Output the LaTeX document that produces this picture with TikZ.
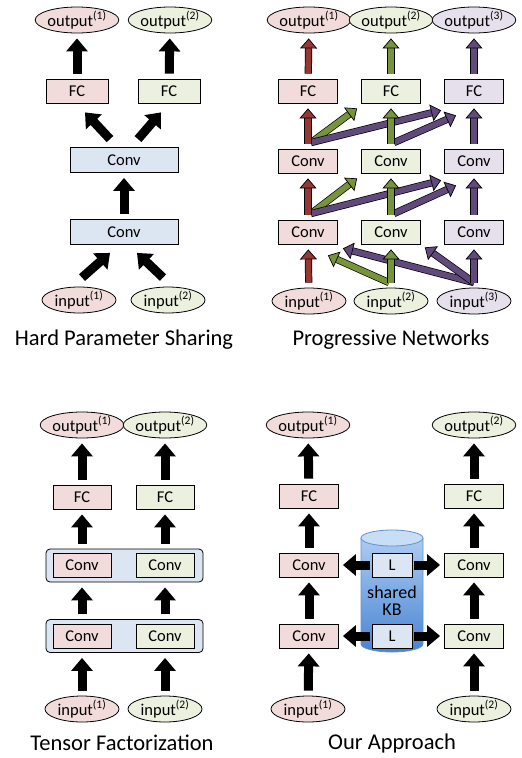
\documentclass[tikz,border=0pt]{standalone}
\usepackage{fontspec}
\setmainfont{Carlito}
\usetikzlibrary{arrows.meta,calc,shapes.geometric}
\definecolor{pinkbg}{RGB}{242,220,219}
\definecolor{greenbg}{RGB}{235,241,222}
\definecolor{purplebg}{RGB}{229,224,236}
\definecolor{bluebg}{RGB}{220,230,242}
\definecolor{redline}{RGB}{149,55,53}
\definecolor{greenline}{RGB}{119,147,60}
\definecolor{purpleline}{RGB}{96,74,123}
\definecolor{kbtop}{RGB}{200,221,246}
\definecolor{kbbody}{RGB}{172,203,243}
\definecolor{kbbottom}{RGB}{72,132,210}
\definecolor{kbline}{RGB}{96,146,206}
\newcommand{\nodefont}{\fontsize{16.5}{18}\selectfont}
\newcommand{\kbfont}{\fontsize{18}{17}\selectfont}
\newcommand{\captionfont}{\fontsize{22.5}{26}\selectfont}
\tikzset{
  layer/.style={draw=black, line width=0.8pt, minimum width=59pt,
    minimum height=24pt, inner sep=0pt, font=\nodefont},
  io/.style={ellipse, draw=black, line width=0.8pt, minimum width=76pt,
    minimum height=26pt, inner sep=0pt, font=\nodefont},
  group/.style={draw=black, line width=0.8pt, fill=bluebg, rounded corners=4pt,
    minimum width=157pt, minimum height=33pt},
  caption/.style={font=\captionfont},
  fat/.style={draw=black, line width=9pt, -{Triangle[length=13pt,width=21pt]},
    shorten <=5pt, shorten >=5pt},
  prog/.style={draw=black, line width=0.7pt, double=#1, double distance=5.8pt,
    -{Triangle[length=10pt,width=17pt,fill=#1,line width=0.7pt]},
    shorten <=5pt, shorten >=5pt},
  lat/.style={shorten <=0pt, shorten >=0pt}
}

\begin{document}
\begin{tikzpicture}[x=1pt,y=-1pt]
  \useasboundingbox (0,0) rectangle (522,758);

  % Hard Parameter Sharing
  \node[io, fill=pinkbg] (hout1) at (77,20) {output\textsuperscript{(1)}};
  \node[io, fill=greenbg] (hout2) at (170,20) {output\textsuperscript{(2)}};
  \node[layer, fill=pinkbg, minimum width=62pt] (hfc1) at (77,91) {FC};
  \node[layer, fill=greenbg, minimum width=62pt] (hfc2) at (169,91) {FC};
  \node[layer, fill=bluebg, minimum width=108pt, minimum height=25pt] (hconv2) at (124,160) {Conv};
  \node[layer, fill=bluebg, minimum width=108pt, minimum height=25pt] (hconv1) at (124,232) {Conv};
  \node[io, fill=pinkbg, minimum width=74pt] (hin1) at (79,300) {input\textsuperscript{(1)}};
  \node[io, fill=greenbg, minimum width=74pt] (hin2) at (168,300) {input\textsuperscript{(2)}};
  \node[caption] (hcap) at (124,340) {Hard Parameter Sharing};

  \draw[fat] (hfc1) -- (hout1);
  \draw[fat] (hfc2) -- (hout2);
  \draw[fat, lat] ($(hconv2.north)+(-14,-8)$) -- ($(hfc1.south)+(8,9)$);
  \draw[fat, lat] ($(hconv2.north)+(14,-8)$) -- ($(hfc2.south)+(-8,9)$);
  \draw[fat] (hconv1) -- (hconv2);
  \draw[fat, lat] ($(hin1.north)+(3,-9)$) -- ($(hconv1.south)+(-14,8)$);
  \draw[fat, lat] ($(hin2.north)+(-5,-9)$) -- ($(hconv1.south)+(13,8)$);

  % Progressive Networks
  \node[io, fill=pinkbg] (pout1) at (309,20) {output\textsuperscript{(1)}};
  \node[io, fill=greenbg] (pout2) at (391,20) {output\textsuperscript{(2)}};
  \node[io, fill=purplebg] (pout3) at (474,20) {output\textsuperscript{(3)}};
  \node[layer, fill=pinkbg] (pfc1) at (308,91) {FC};
  \node[layer, fill=greenbg] (pfc2) at (391,91) {FC};
  \node[layer, fill=purplebg] (pfc3) at (474,91) {FC};
  \node[layer, fill=pinkbg] (pmid1) at (308,161) {Conv};
  \node[layer, fill=greenbg] (pmid2) at (391,161) {Conv};
  \node[layer, fill=purplebg] (pmid3) at (474,161) {Conv};
  \node[layer, fill=pinkbg] (plow1) at (308,232) {Conv};
  \node[layer, fill=greenbg] (plow2) at (391,232) {Conv};
  \node[layer, fill=purplebg] (plow3) at (474,232) {Conv};
  \node[io, fill=pinkbg, minimum width=74pt] (pin1) at (309,301) {input\textsuperscript{(1)}};
  \node[io, fill=greenbg, minimum width=74pt] (pin2) at (391,301) {input\textsuperscript{(2)}};
  \node[io, fill=purplebg, minimum width=74pt] (pin3) at (474,301) {input\textsuperscript{(3)}};
  \node[caption] (pcap) at (391,340) {Progressive Networks};

  \draw[prog=greenline, lat] ($(pmid1.north)+(3,-6)$) -- ($(pfc2.south west)+(-4,5)$);
  \draw[prog=purpleline, lat] ($(pmid1.north)+(3,-6)$) -- ($(pfc3.south west)+(-3,7)$);
  \draw[prog=purpleline, lat] ($(pmid2.north)+(3,-6)$) -- ($(pfc3.south west)+(12,12)$);
  \draw[prog=greenline, lat] ($(plow1.north)+(3,-6)$) -- ($(pmid2.south west)+(-4,5)$);
  \draw[prog=purpleline, lat] ($(plow1.north)+(3,-6)$) -- ($(pmid3.south west)+(-3,7)$);
  \draw[prog=purpleline, lat] ($(plow2.north)+(3,-6)$) -- ($(pmid3.south west)+(12,12)$);
  \draw[prog=greenline, lat] ($(pin2.north)+(-2,-5)$) -- ($(plow1.south east)+(-10,11)$);
  \draw[prog=purpleline, lat] ($(pin3.north)+(0,-5)$) -- ($(plow1.south east)+(5,4)$);
  \draw[prog=purpleline, lat] ($(pin3.north)+(0,-5)$) -- ($(plow2.south east)+(4,3)$);

  \draw[prog=redline] (pfc1) -- (pout1);
  \draw[prog=greenline] (pfc2) -- (pout2);
  \draw[prog=purpleline] (pfc3) -- (pout3);
  \draw[prog=redline] (pmid1) -- (pfc1);
  \draw[prog=greenline] (pmid2) -- (pfc2);
  \draw[prog=purpleline] (pmid3) -- (pfc3);
  \draw[prog=redline] (plow1) -- (pmid1);
  \draw[prog=greenline] (plow2) -- (pmid2);
  \draw[prog=purpleline] (plow3) -- (pmid3);
  \draw[prog=redline] (pin1) -- (plow1);
  \draw[prog=greenline] (pin2) -- (plow2);
  \draw[prog=purpleline] (pin3) -- (plow3);

  % Tensor Factorization
  \node[io, fill=pinkbg] (tout1) at (82,425) {output\textsuperscript{(1)}};
  \node[io, fill=greenbg] (tout2) at (165,425) {output\textsuperscript{(2)}};
  \node[layer, fill=pinkbg, minimum width=58pt] (tfc1) at (82,497) {FC};
  \node[layer, fill=greenbg, minimum width=58pt] (tfc2) at (165,497) {FC};
  \node[group] (tgrp2) at (124.5,565.5) {};
  \node[group] (tgrp1) at (124.5,636) {};
  \node[layer, fill=pinkbg, minimum width=58pt] (tconv2a) at (82,565) {Conv};
  \node[layer, fill=greenbg, minimum width=58pt] (tconv2b) at (165,565) {Conv};
  \node[layer, fill=pinkbg, minimum width=58pt] (tconv1a) at (82,636) {Conv};
  \node[layer, fill=greenbg, minimum width=58pt] (tconv1b) at (165,636) {Conv};
  \node[io, fill=pinkbg, minimum width=74pt] (tin1) at (82,709) {input\textsuperscript{(1)}};
  \node[io, fill=greenbg, minimum width=74pt] (tin2) at (165,709) {input\textsuperscript{(2)}};
  \node[caption] (tcap) at (122,743) {Tensor Factorization};

  \draw[fat] (tfc1) -- (tout1);
  \draw[fat] (tfc2) -- (tout2);
  \draw[fat] (tgrp2.north -| tconv2a) -- (tfc1);
  \draw[fat] (tgrp2.north -| tconv2b) -- (tfc2);
  \draw[fat] (tgrp1.north -| tconv1a) -- (tgrp2.south -| tconv2a);
  \draw[fat] (tgrp1.north -| tconv1b) -- (tgrp2.south -| tconv2b);
  \draw[fat] (tin1) -- (tgrp1.south -| tconv1a);
  \draw[fat] (tin2) -- (tgrp1.south -| tconv1b);

  % Our Approach
  % shared KB cylinder
  \path[draw=kbline, line width=0.8pt, top color=kbbody, bottom color=kbbottom]
    (361,538) -- (361,644) arc[start angle=180, end angle=0, x radius=31, y radius=8]
    -- (423,538) -- cycle;
  \path[draw=kbline, line width=0.8pt, fill=kbtop] (392,538) ellipse [x radius=31, y radius=8];
  \node[font=\kbfont, align=center, inner sep=0pt] (kbtext) at (392,601) {shared\\KB};
  \node[layer, fill=bluebg, minimum width=40pt] (lknow2) at (392,565) {L};
  \node[layer, fill=bluebg, minimum width=40pt] (lknow1) at (392,636) {L};
  \node[io, fill=pinkbg] (oout1) at (308,425) {output\textsuperscript{(1)}};
  \node[io, fill=greenbg] (oout2) at (474,425) {output\textsuperscript{(2)}};
  \node[layer, fill=pinkbg] (ofc1) at (309,496) {FC};
  \node[layer, fill=greenbg] (ofc2) at (474,496) {FC};
  \node[layer, fill=pinkbg] (oconv2a) at (309,565) {Conv};
  \node[layer, fill=greenbg] (oconv2b) at (474,565) {Conv};
  \node[layer, fill=pinkbg] (oconv1a) at (309,636) {Conv};
  \node[layer, fill=greenbg] (oconv1b) at (474,636) {Conv};
  \node[io, fill=pinkbg, minimum width=74pt] (oin1) at (308,709) {input\textsuperscript{(1)}};
  \node[io, fill=greenbg, minimum width=74pt] (oin2) at (474,709) {input\textsuperscript{(2)}};
  \node[caption] (ocap) at (392,743) {Our Approach};

  \draw[fat] (ofc1) -- (oout1);
  \draw[fat] (ofc2) -- (oout2);
  \draw[fat] (oconv2a) -- (ofc1);
  \draw[fat] (oconv2b) -- (ofc2);
  \draw[fat] (oconv1a) -- (oconv2a);
  \draw[fat] (oconv1b) -- (oconv2b);
  \draw[fat] (oin1) -- (oconv1a);
  \draw[fat] (oin2) -- (oconv1b);
  \draw[fat, shorten <=2pt, shorten >=4pt] (lknow2) -- (oconv2a);
  \draw[fat, shorten <=2pt, shorten >=4pt] (lknow2) -- (oconv2b);
  \draw[fat, shorten <=2pt, shorten >=4pt] (lknow1) -- (oconv1a);
  \draw[fat, shorten <=2pt, shorten >=4pt] (lknow1) -- (oconv1b);
\end{tikzpicture}
\end{document}
